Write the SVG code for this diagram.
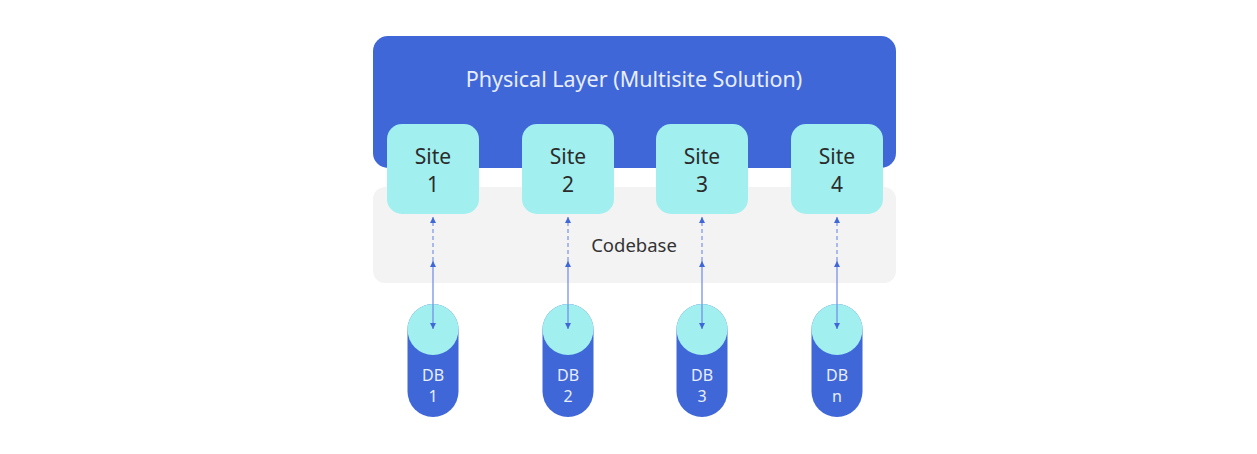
<svg xmlns="http://www.w3.org/2000/svg" width="1257" height="454" viewBox="0 0 1257 454">
<defs>
<style>
.site{fill:#a1f0ef}
.sitetxt{font-family:"Noto Sans","Liberation Sans",sans-serif;font-size:21px;fill:#2b2b2b;text-anchor:middle}
.dbbody{fill:#3f67d8}
.dbtop{fill:#a1f0ef}
.dbtxt{font-family:"Noto Sans","Liberation Sans",sans-serif;font-size:16px;fill:#e8eefc;text-anchor:middle}
.dash{stroke:#7a93e6;stroke-width:1.2;stroke-dasharray:4 3;fill:none}
.solid{stroke:#6d89e6;stroke-width:1.2;fill:none}
</style>
<marker id="ah" viewBox="0 0 10 10" refX="10" refY="5" markerWidth="6" markerHeight="6" markerUnits="userSpaceOnUse" orient="auto-start-reverse">
<path d="M0,0 L10,5 L0,10 z" fill="#3f67d8"/>
</marker>
</defs>
<rect width="1257" height="454" fill="#ffffff"/>
<g id="codebase">
<rect x="373" y="187" width="523" height="96" rx="12" fill="#f3f3f3"/>
<text x="634" y="252" font-family="Noto Sans, Liberation Sans, sans-serif" font-size="18.5" fill="#333333" text-anchor="middle">Codebase</text>
</g>
<g id="physical-layer">
<rect x="373" y="36" width="523" height="132" rx="15" fill="#3f67d8"/>
<text x="634" y="87" font-family="Noto Sans, Liberation Sans, sans-serif" font-size="21.5" fill="#e8eefc" text-anchor="middle">Physical Layer (Multisite Solution)</text>
</g>
<g id="site1"><rect class="site" x="387" y="124" width="92" height="90" rx="15"/><text class="sitetxt" x="433" y="164">Site</text><text class="sitetxt" x="433" y="192">1</text></g>
<g id="site2"><rect class="site" x="522" y="124" width="92" height="90" rx="15"/><text class="sitetxt" x="568" y="164">Site</text><text class="sitetxt" x="568" y="192">2</text></g>
<g id="site3"><rect class="site" x="656" y="124" width="92" height="90" rx="15"/><text class="sitetxt" x="702" y="164">Site</text><text class="sitetxt" x="702" y="192">3</text></g>
<g id="site4"><rect class="site" x="791" y="124" width="92" height="90" rx="15"/><text class="sitetxt" x="837" y="164">Site</text><text class="sitetxt" x="837" y="192">4</text></g>
<g id="db1"><rect class="dbbody" x="407.5" y="304" width="51" height="113" rx="25.5"/><circle class="dbtop" cx="433" cy="329.5" r="25.5"/><text class="dbtxt" x="433" y="381">DB</text><text class="dbtxt" x="433" y="402">1</text></g>
<g id="db2"><rect class="dbbody" x="542.5" y="304" width="51" height="113" rx="25.5"/><circle class="dbtop" cx="568" cy="329.5" r="25.5"/><text class="dbtxt" x="568" y="381">DB</text><text class="dbtxt" x="568" y="402">2</text></g>
<g id="db3"><rect class="dbbody" x="676.5" y="304" width="51" height="113" rx="25.5"/><circle class="dbtop" cx="702" cy="329.5" r="25.5"/><text class="dbtxt" x="702" y="381">DB</text><text class="dbtxt" x="702" y="402">3</text></g>
<g id="dbn"><rect class="dbbody" x="811.5" y="304" width="51" height="113" rx="25.5"/><circle class="dbtop" cx="837" cy="329.5" r="25.5"/><text class="dbtxt" x="837" y="381">DB</text><text class="dbtxt" x="837" y="402">n</text></g>
<g id="connectors">
<line class="dash" x1="433" y1="261" x2="433" y2="217" marker-end="url(#ah)"/>
<line class="solid" x1="433" y1="261" x2="433" y2="329" marker-start="url(#ah)" marker-end="url(#ah)"/>
<line class="dash" x1="568" y1="261" x2="568" y2="217" marker-end="url(#ah)"/>
<line class="solid" x1="568" y1="261" x2="568" y2="329" marker-start="url(#ah)" marker-end="url(#ah)"/>
<line class="dash" x1="702" y1="261" x2="702" y2="217" marker-end="url(#ah)"/>
<line class="solid" x1="702" y1="261" x2="702" y2="329" marker-start="url(#ah)" marker-end="url(#ah)"/>
<line class="dash" x1="837" y1="261" x2="837" y2="217" marker-end="url(#ah)"/>
<line class="solid" x1="837" y1="261" x2="837" y2="329" marker-start="url(#ah)" marker-end="url(#ah)"/>
</g>
</svg>
